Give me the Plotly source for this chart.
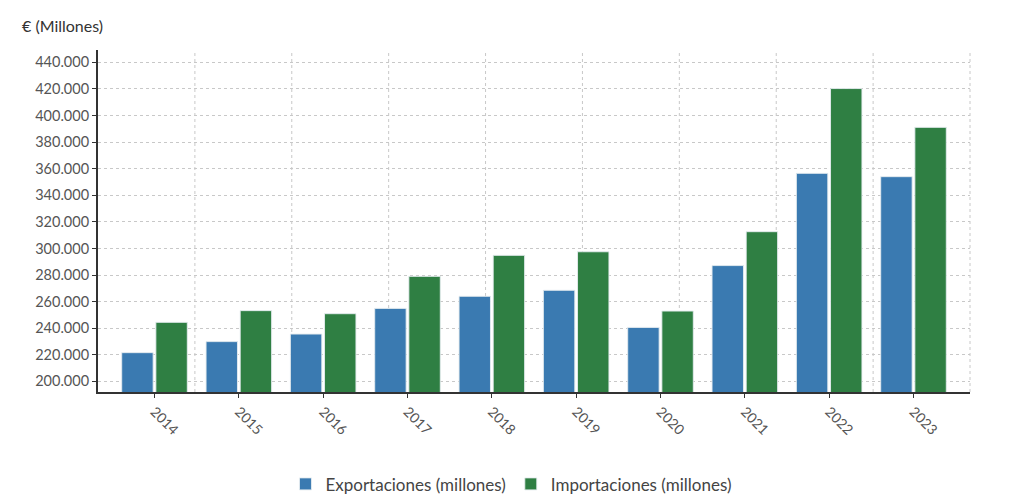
import plotly.graph_objects as go

# Datos (millones de euros)
years = ['2014', '2015', '2016', '2017', '2018', '2019', '2020', '2021', '2022', '2023']
exportaciones = [221600, 229900, 235600, 254900, 264000, 268500, 240600, 287100, 356500, 354000]
importaciones = [244400, 253200, 250900, 279000, 294800, 297500, 252900, 312600, 420300, 391100]
y_ticks = list(range(200000, 440001, 20000))
y_labels = [f'{v:,}'.replace(',', '.') for v in y_ticks]

blue = '#3a7ab1'
green = '#2f7f43'
grid_color = '#c8c8c8'
text_color = '#555555'

fig = go.Figure()

fig.add_trace(go.Bar(x=years, y=exportaciones, name='Exportaciones (millones)',
                     marker=dict(color=blue, line=dict(color='rgba(230,236,240,0.9)', width=1))))
fig.add_trace(go.Bar(x=years, y=importaciones, name='Importaciones (millones)',
                     marker=dict(color=green, line=dict(color='rgba(230,236,240,0.9)', width=1))))

# vertical grid lines (9 equal divisions, not tied to the categories)
for k in range(1, 10):
    fig.add_shape(type='line', xref='x domain', yref='y domain',
                  x0=k / 9, x1=k / 9, y0=0, y1=1,
                  line=dict(color=grid_color, width=1, dash='dot'),
                  layer='below')

fig.add_annotation(text='€ (Millones)', xref='paper', yref='paper',
                   x=-0.089, y=1.073, xanchor='left', yanchor='middle',
                   showarrow=False, font=dict(size=16, color='#333333'))

# page has an 8px body margin, so the figure is 16px smaller than the window
fig.update_layout(
    width=1008,
    height=488,
    margin=dict(l=90, r=46, t=42, b=104, autoexpand=False),
    plot_bgcolor='white',
    paper_bgcolor='white',
    font=dict(family='Lato, Open Sans, sans-serif', size=14, color=text_color),
    barmode='group',
    bargap=0.19,
    bargroupgap=0.08,
    showlegend=True,
    legend=dict(orientation='h', x=0.4736, xanchor='center', y=-0.27, yanchor='middle',
                font=dict(size=17, color='#444444'), itemwidth=30),
    xaxis=dict(
        type='category',
        range=[-0.67, len(years) - 0.33],
        showgrid=False,
        showline=True, linecolor='#333333', linewidth=2,
        ticks='outside', ticklen=4, tickcolor='#333333',
        tickangle=45,
        tickfont=dict(size=14, color=text_color),
    ),
    yaxis=dict(
        range=[192000, 449300],
        tickmode='array',
        tickvals=y_ticks,
        ticktext=y_labels,
        showgrid=True, gridcolor=grid_color, griddash='dot', gridwidth=1,
        showline=True, linecolor='#333333', linewidth=2,
        ticks='outside', ticklen=4, tickcolor='#333333',
        zeroline=False,
        tickfont=dict(size=14.5, color=text_color),
    ),
)

fig.write_html('out.html')
